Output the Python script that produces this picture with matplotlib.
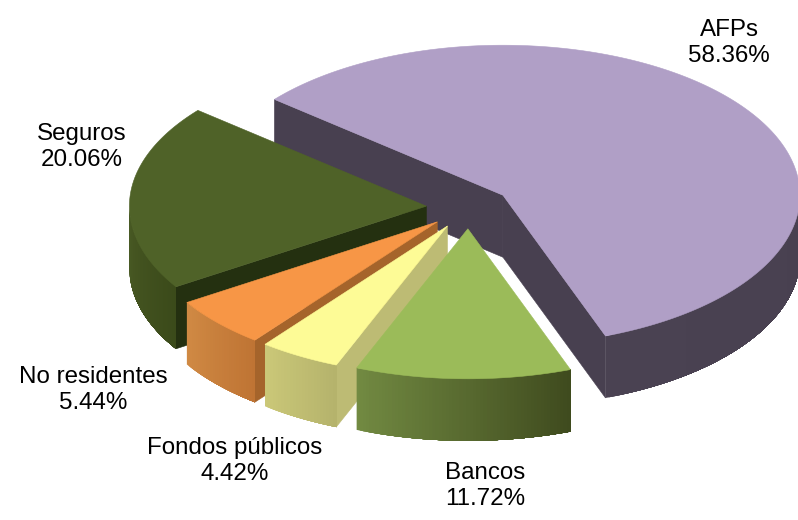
import numpy as np
import matplotlib
matplotlib.use("Agg")
import matplotlib.pyplot as plt
from matplotlib.colors import to_rgb
from matplotlib.patches import Polygon

plt.rcParams['font.family'] = ['Liberation Sans', 'DejaVu Sans']

labels = ["AFPs", "Bancos", "Fondos públicos", "No residentes", "Seguros"]
shares = [58.36, 11.72, 4.42, 5.44, 20.06]
top_colors = ["#B09FC6", "#9BBB59", "#FDFB96", "#F79646", "#4F6228"]
face_colors = ["#484050", "#4F5F2C", "#BDBB74", "#A5642B", "#243010"]
wall_left = ["#4A4252", "#728A42", "#CBC878", "#D08A44", "#4A5B25"]
wall_right = ["#484050", "#3F4A1E", "#B5B36C", "#BF7434", "#3B4A1A"]
label_pos = [(729, 43), (485, 486), (235, 461), (93, 390), (82, 147)]

# pie geometry in pixels
CX, CY = 468.5, 207.5
RX, RY = 297, 150
DEPTH = 62
EXPLODE = 0.142
START = 140.3

fig = plt.figure(figsize=(7.98, 5.2), dpi=100)
ax = fig.add_axes([0, 0, 1, 1])
ax.set_xlim(0, 798)
ax.set_ylim(520, 0)
ax.axis("off")


def rim(ax_, ay_, t):
    t = np.radians(t)
    return ax_ + RX * np.cos(t), ay_ - RY * np.sin(t)


# clockwise from START, as the original pie
edges = START - np.cumsum([0] + shares) * 3.6
slices = []
for i in range(len(shares)):
    hi, lo = edges[i], edges[i + 1]
    mid = np.radians((hi + lo) / 2)
    ax0 = CX + EXPLODE * RX * np.cos(mid)
    ay0 = CY - EXPLODE * RY * np.sin(mid)
    slices.append((i, hi, lo, ax0, ay0))


def draw_slice(i, hi, lo, ax0, ay0, z):
    # cut faces, only the ones turned to the viewer
    for t, seen in ((hi, np.cos(np.radians(hi)) < 0), (lo, np.cos(np.radians(lo)) > 0)):
        if seen:
            x, y = rim(ax0, ay0, t)
            ax.add_patch(Polygon([(ax0, ay0), (x, y), (x, y + DEPTH), (ax0, ay0 + DEPTH)],
                                 fc=face_colors[i], ec=face_colors[i], lw=0.4, zorder=z))
    # outer wall: front half of the rim, shaded left to right
    # strips overlap the next one so no background shows through the seams
    ts = np.linspace(lo, hi, int((hi - lo) * 1.5) + 2)
    ts = ts[np.sin(np.radians(ts)) <= 0.02]
    if len(ts) > 1:
        xs, ys = rim(ax0, ay0, ts)
        order = np.argsort(xs)
        xs, ys = xs[order], ys[order]
        c0, c1 = np.array(to_rgb(wall_left[i])), np.array(to_rgb(wall_right[i]))
        n = len(xs)
        for k in range(n - 1):
            f = (k + 0.5) / (n - 1)
            col = c0 + (c1 - c0) * f
            tail_x, tail_y = xs[k:], ys[k:]
            ax.add_patch(Polygon(list(zip(tail_x, tail_y)) + list(zip(tail_x[::-1], tail_y[::-1] + DEPTH)),
                                 fc=col, ec="none", lw=0, zorder=z + k * 1e-4))
    # top
    ts = np.linspace(lo, hi, 200)
    xs, ys = rim(ax0, ay0, ts)
    pts = [(ax0, ay0)] + list(zip(xs, ys))
    ax.add_patch(Polygon(pts, fc=top_colors[i], ec=top_colors[i], lw=0.4, zorder=z + 0.5))


# back to front: AFPs, Seguros, No residentes, Fondos, Bancos
for z, n in enumerate([0, 4, 3, 2, 1]):
    draw_slice(*slices[n], z + 1)

for name, share, (x, y) in zip(labels, shares, label_pos):
    ax.text(x, y, f"{name}\n{share:.2f}%", ha="center", va="center",
            fontsize=17.4, color="#000000", linespacing=1.25, zorder=10)

fig.savefig("out.png", dpi=100)
